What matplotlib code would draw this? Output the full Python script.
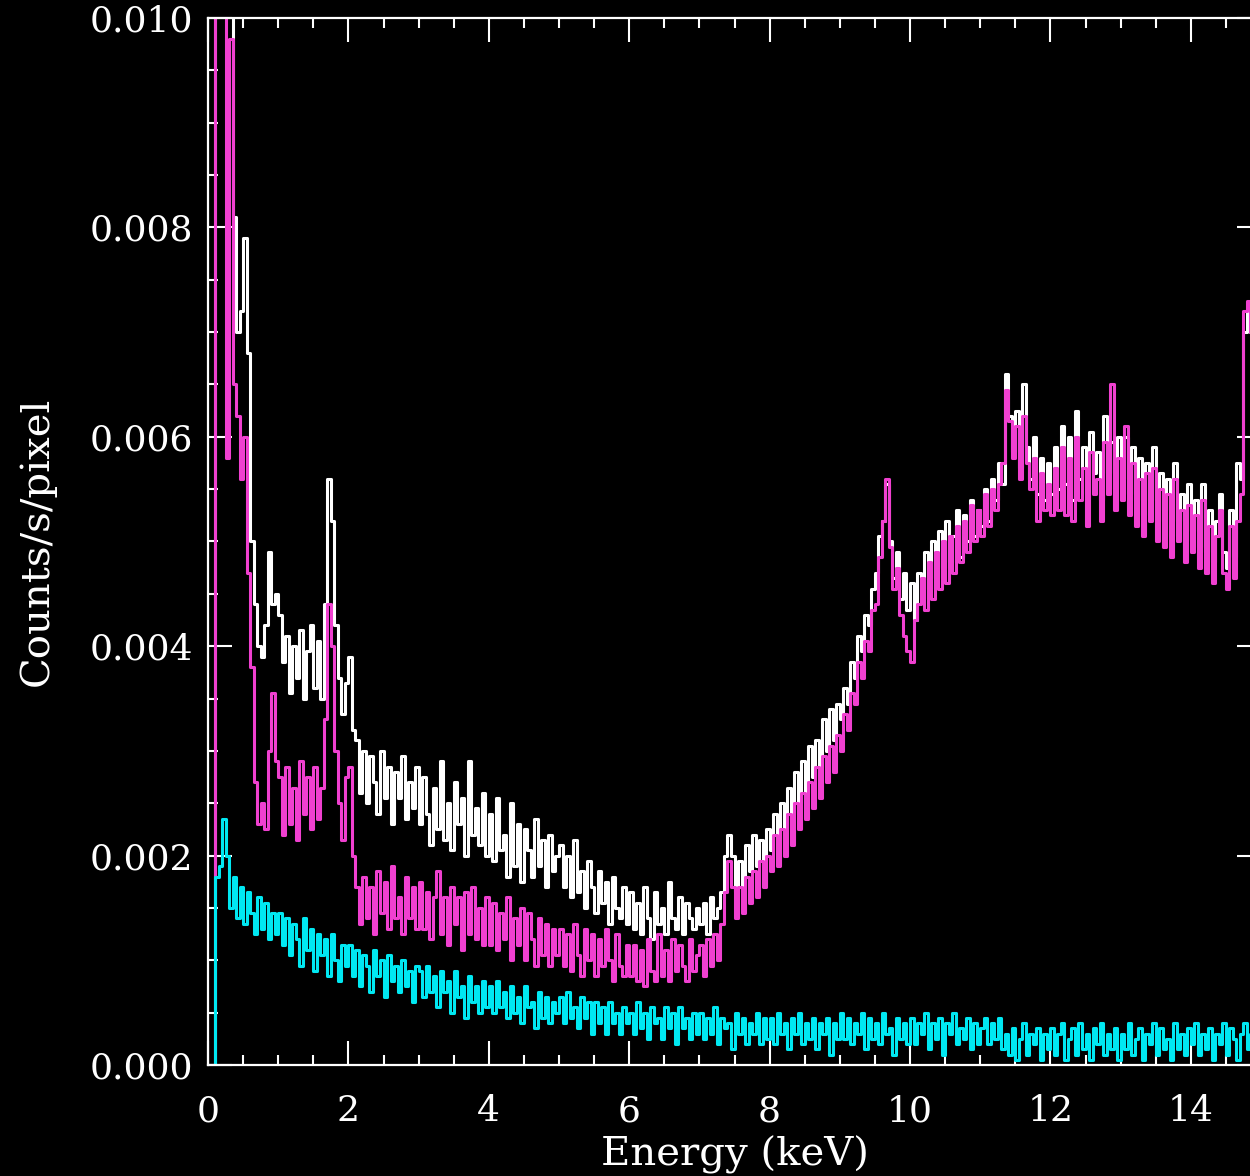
import numpy as np
import matplotlib
matplotlib.use("Agg")
import matplotlib.pyplot as plt
from matplotlib.ticker import MultipleLocator, FormatStrFormatter

# spectra binned at 0.05 keV, values in units of 1e-5 counts/s/pixel
bin_width = 0.05

white_counts = [
    0, 0, 1200, 1200, 1200, 1200, 1050, 810, 700, 720, 790, 680, 500, 440, 400, 390, 420, 490, 440, 450,
    430, 385, 410, 355, 400, 370, 415, 350, 395, 420, 360, 405, 350, 440, 560, 520, 420, 370, 335, 365,
    390, 320, 310, 260, 300, 250, 295, 270, 240, 300, 255, 285, 230, 280, 255, 295, 235, 270, 245, 285,
    230, 275, 240, 210, 265, 225, 290, 215, 250, 205, 270, 230, 255, 200, 290, 220, 245, 210, 260, 200,
    240, 195, 255, 205, 220, 180, 250, 190, 230, 175, 225, 205, 180, 235, 190, 215, 170, 220, 185, 200,
    210, 170, 200, 160, 215, 165, 185, 150, 195, 170, 145, 185, 155, 175, 135, 180, 150, 140, 170, 135,
    165, 130, 155, 125, 170, 140, 120, 165, 135, 150, 125, 175, 140, 130, 160, 125, 155, 140, 130, 150,
    135, 155, 125, 160, 140, 150, 165, 200, 220, 200, 165, 195, 170, 210, 185, 220, 190, 215, 195, 225,
    205, 240, 215, 250, 225, 265, 240, 280, 250, 290, 260, 305, 275, 310, 285, 330, 300, 340, 310, 345,
    330, 360, 345, 385, 370, 410, 395, 430, 420, 455, 470, 505, 520, 555, 500, 465, 490, 445, 470, 435,
    460, 425, 470, 445, 490, 455, 500, 465, 510, 475, 520, 480, 505, 530, 485, 525, 500, 540, 505, 530,
    515, 550, 520, 560, 540, 575, 555, 660, 620, 585, 625, 570, 650, 590, 560, 600, 545, 580, 540, 575,
    545, 590, 550, 610, 555, 600, 540, 625, 560, 590, 545, 605, 565, 585, 540, 620, 565, 595, 550, 600,
    560, 600, 545, 590, 540, 580, 525, 575, 540, 590, 520, 565, 530, 560, 505, 575, 520, 545, 500, 555,
    510, 540, 495, 555, 490, 530, 480, 520, 545, 490, 475, 530, 485, 575, 560, 700, 720, 700, 680, 650,
]

magenta_counts = [
    0, 0, 1200, 1200, 1150, 580, 980, 650, 620, 560, 600, 470, 380, 270, 230, 250, 225, 300, 355, 290,
    275, 220, 285, 230, 265, 215, 290, 240, 275, 225, 285, 235, 265, 330, 440, 400, 300, 250, 215, 275,
    285, 200, 170, 135, 180, 140, 170, 125, 185, 145, 175, 130, 190, 140, 160, 125, 180, 140, 170, 130,
    175, 130, 165, 120, 160, 185, 125, 160, 115, 170, 135, 160, 110, 165, 125, 170, 120, 150, 115, 160,
    115, 155, 110, 145, 120, 160, 100, 140, 115, 150, 100, 145, 120, 95, 140, 105, 135, 95, 130, 105,
    130, 95, 125, 90, 135, 105, 85, 130, 100, 125, 85, 120, 95, 130, 100, 80, 125, 95, 85, 115,
    85, 115, 80, 110, 75, 120, 90, 80, 125, 85, 110, 80, 120, 90, 115, 95, 80, 120, 90, 105,
    115, 85, 120, 95, 125, 100, 135, 165, 195, 170, 140, 170, 145, 180, 155, 185, 160, 195, 170, 200,
    185, 220, 190, 225, 200, 240, 210, 250, 225, 260, 235, 270, 245, 285, 255, 295, 270, 305, 280, 315,
    300, 335, 320, 355, 345, 385, 370, 405, 395, 435, 440, 485, 520, 560, 495, 455, 475, 430, 410, 395,
    385, 425, 440, 465, 435, 480, 445, 490, 455, 500, 460, 505, 470, 515, 480, 520, 490, 535, 500, 530,
    505, 545, 515, 550, 530, 555, 575, 645, 615, 580, 610, 560, 620, 575, 550, 580, 520, 565, 530, 555,
    525, 570, 530, 590, 525, 580, 520, 600, 540, 570, 515, 585, 545, 560, 520, 595, 545, 650, 530, 580,
    540, 610, 525, 575, 515, 560, 505, 565, 520, 570, 500, 550, 495, 545, 485, 560, 500, 530, 480, 535,
    490, 525, 475, 540, 470, 515, 460, 505, 530, 470, 455, 515, 465, 520, 545, 720, 730, 700, 690, 660,
]

cyan_counts = [
    0, 0, 180, 190, 235, 200, 150, 180, 140, 170, 135, 165, 145, 125, 160, 130, 155, 120, 145, 125,
    145, 115, 140, 105, 135, 120, 95, 140, 110, 130, 90, 125, 105, 120, 85, 125, 100, 80, 115, 95,
    115, 85, 110, 75, 105, 95, 70, 110, 85, 100, 65, 105, 80, 95, 70, 100, 75, 90, 60, 95,
    90, 65, 95, 70, 85, 55, 90, 70, 80, 50, 90, 65, 75, 45, 85, 60, 75, 50, 80, 55,
    75, 50, 80, 55, 70, 45, 75, 50, 65, 40, 75, 55, 60, 35, 70, 45, 65, 40, 60, 50,
    65, 40, 70, 45, 55, 35, 65, 45, 60, 30, 60, 40, 55, 30, 60, 40, 50, 30, 55, 40,
    50, 30, 60, 35, 50, 25, 55, 40, 45, 25, 55, 35, 50, 20, 55, 35, 45, 25, 50, 30,
    50, 25, 45, 30, 55, 20, 45, 35, 40, 15, 50, 30, 45, 20, 40, 30, 50, 20, 45, 25,
    45, 20, 50, 30, 40, 15, 45, 30, 50, 20, 40, 25, 45, 15, 40, 30, 45, 10, 40, 25,
    50, 25, 45, 20, 40, 30, 50, 15, 45, 25, 40, 20, 50, 30, 35, 10, 45, 25, 40, 20,
    45, 20, 40, 30, 50, 15, 40, 25, 45, 10, 40, 30, 50, 20, 35, 25, 45, 15, 40, 20,
    35, 45, 20, 40, 25, 45, 15, 30, 10, 35, 5, 25, 40, 10, 30, 20, 35, 5, 30, 15,
    35, 10, 30, 40, 5, 25, 35, 10, 40, 15, 30, 5, 35, 20, 40, 10, 30, 15, 35, 5,
    30, 15, 40, 10, 25, 35, 5, 30, 20, 40, 10, 35, 15, 25, 5, 40, 15, 30, 10, 35,
    20, 40, 10, 30, 15, 35, 5, 30, 20, 40, 10, 35, 25, 5, 30, 40, 15, 30, 10, 35,
]

energy = (np.arange(len(white_counts)) + 0.5) * bin_width
scale = 1e-5

plt.rcParams["font.family"] = "DejaVu Serif"

fig = plt.figure(figsize=(12.5, 11.76), dpi=100, facecolor="black")
ax = fig.add_axes([0.1664, 0.0944, 0.8424, 0.8903], facecolor="black")

ax.plot(energy, np.array(white_counts) * scale, drawstyle="steps-mid", color="white", lw=2.2)
ax.plot(energy, np.array(magenta_counts) * scale, drawstyle="steps-mid", color="#f040d0", lw=2.2)
ax.plot(energy, np.array(cyan_counts) * scale, drawstyle="steps-mid", color="#00e8f2", lw=2.2)

ax.set_xlim(0, 15)
ax.set_ylim(0, 0.010)

ax.xaxis.set_major_locator(MultipleLocator(2))
ax.xaxis.set_minor_locator(MultipleLocator(0.5))
ax.yaxis.set_major_locator(MultipleLocator(0.002))
ax.yaxis.set_minor_locator(MultipleLocator(0.0005))
ax.yaxis.set_major_formatter(FormatStrFormatter("%.3f"))

for side in ax.spines.values():
    side.set_color("white")
    side.set_linewidth(1.6)

ax.tick_params(which="both", direction="in", top=True, right=True, colors="white", width=1.5)
ax.tick_params(which="major", length=17, labelsize=26)
ax.tick_params(which="minor", length=7)
ax.tick_params(axis="x", which="major", pad=21)
ax.tick_params(axis="y", which="major", pad=11)

ax.set_xlabel("Energy (keV)", color="white", fontsize=29, labelpad=5)
ax.set_ylabel("Counts/s/pixel", color="white", fontsize=29, labelpad=24)

fig.savefig("out.png", dpi=100, facecolor="black")
